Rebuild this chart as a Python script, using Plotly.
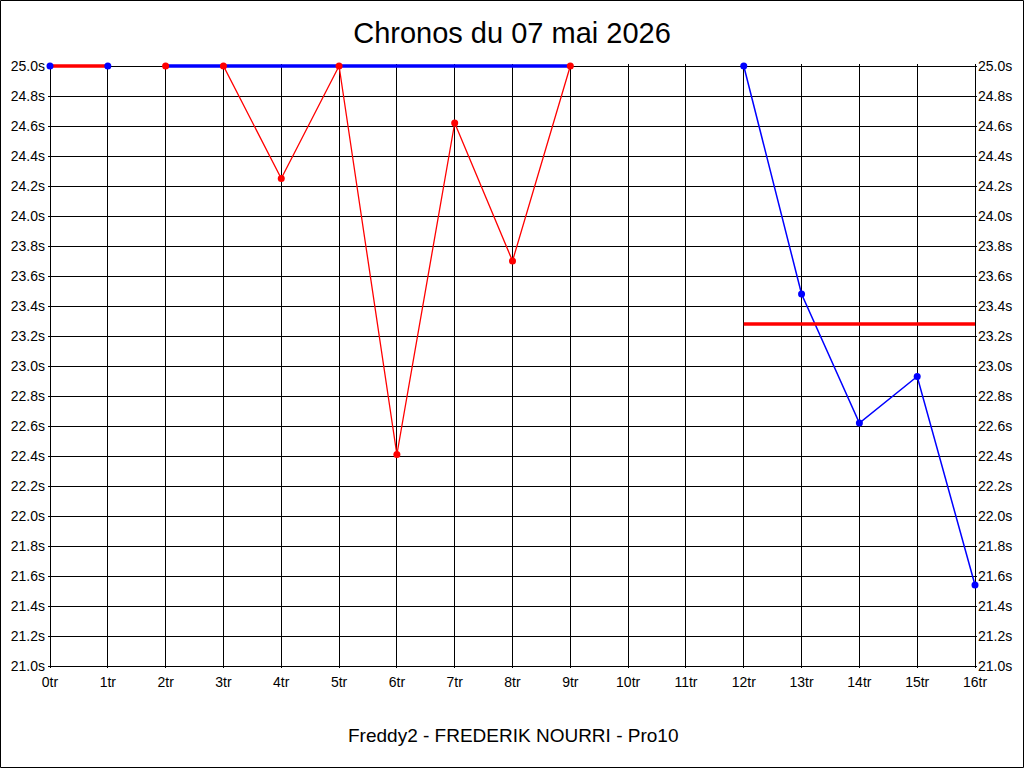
import plotly.graph_objects as go

# chronos (seconds) per tour
red_tours = [2, 3, 4, 5, 6, 7, 8, 9]
red_times = [25.0, 25.0, 24.25, 25.0, 22.41, 24.62, 23.70, 25.0]

blue_start_tours = [0, 1]
blue_start_times = [25.0, 25.0]

blue_tours = [12, 13, 14, 15, 16]
blue_times = [25.0, 23.48, 22.62, 22.93, 21.54]

# thick horizontal segments
red_bar_tours = [0, 1]
red_bar_times = [25.0, 25.0]
blue_bar_tours = [2, 9]
blue_bar_times = [25.0, 25.0]
ref_tours = [12, 16]
ref_times = [23.28, 23.28]

W, H = 1024, 768
# grid box in pixels, with a small pad so the thick edge lines are not clipped
gl, gr, gt, gb = 50, 975, 66, 666
pad = 2
ml, mr, mt, mb = gl - pad, W - gr - pad, gt - pad, H - gb - pad
pw, ph = W - ml - mr, H - mt - mb
x_lo, x_hi = 0, 16
y_lo, y_hi = 21, 25
dx = pad * (x_hi - x_lo) / (gr - gl)
dy = pad * (y_hi - y_lo) / (gb - gt)

font = "Liberation Sans, Arial, sans-serif"
RED, BLUE = "#ff0000", "#0000ff"

fig = go.Figure()

fig.add_trace(go.Scatter(x=red_tours, y=red_times, mode="lines",
                         line=dict(color=RED, width=1.3)))
fig.add_trace(go.Scatter(x=blue_bar_tours, y=blue_bar_times, mode="lines",
                         line=dict(color=BLUE, width=3.5)))
fig.add_trace(go.Scatter(x=red_tours, y=red_times, mode="markers", cliponaxis=False,
                         marker=dict(color=RED, size=7)))
fig.add_trace(go.Scatter(x=red_bar_tours, y=red_bar_times, mode="lines",
                         line=dict(color=RED, width=3.5)))
fig.add_trace(go.Scatter(x=blue_start_tours, y=blue_start_times, mode="markers",
                         cliponaxis=False, marker=dict(color=BLUE, size=7)))
fig.add_trace(go.Scatter(x=blue_tours, y=blue_times, mode="lines+markers",
                         cliponaxis=False, line=dict(color=BLUE, width=1.5),
                         marker=dict(color=BLUE, size=7)))
fig.add_trace(go.Scatter(x=ref_tours, y=ref_times, mode="lines", yaxis="y2",
                         line=dict(color=RED, width=3.5)))

axis_common = dict(
    showgrid=True, gridcolor="black", gridwidth=1,
    showline=False, zeroline=False, ticks="", automargin=False,
    tickfont=dict(family=font, size=14, color="black"),
)
y_common = dict(range=[y_lo - dy, y_hi + dy], dtick=0.2, tick0=y_lo,
                tickformat=".1f", ticksuffix="s", **axis_common)

fig.update_layout(
    width=W, height=H,
    margin=dict(l=ml, r=mr, t=mt, b=mb, autoexpand=False),
    paper_bgcolor="white", plot_bgcolor="white",
    showlegend=False,
    font=dict(family=font, color="black"),
    title=dict(text="Chronos du 07 mai 2026", x=0.5, xanchor="center",
               y=1 - 33 / H, yanchor="middle",
               font=dict(family=font, size=29, color="black")),
    xaxis=dict(range=[x_lo - dx, x_hi + dx], dtick=1, tick0=x_lo,
               ticksuffix="tr", ticklabelstandoff=6 - pad, **axis_common),
    yaxis=dict(ticklabelstandoff=4 - pad, **y_common),
    yaxis2=dict(overlaying="y", side="right", ticklabelstandoff=2 - pad, **y_common),
)

fig.add_annotation(text="Freddy2 - FREDERIK NOURRI - Pro10",
                   xref="paper", yref="paper", x=(513 - ml) / pw,
                   y=-(735 - (mt + ph)) / ph, xanchor="center", yanchor="middle",
                   showarrow=False, font=dict(family=font, size=19, color="black"))

# outer frame of the image
fig.add_shape(type="rect", xref="paper", yref="paper",
              x0=(0.5 - ml) / pw, x1=(W - 0.5 - ml) / pw,
              y0=-(mb - 0.5) / ph, y1=1 + (mt - 0.5) / ph,
              line=dict(color="black", width=1), fillcolor="rgba(0,0,0,0)")

fig.write_html("out.html",
               config={"displayModeBar": False, "responsive": False},
               post_script="document.body.style.margin='0';"
                           "document.documentElement.style.overflow='hidden';"
                           "Plotly.relayout('{plot_id}', {width: %d, height: %d});" % (W, H))
